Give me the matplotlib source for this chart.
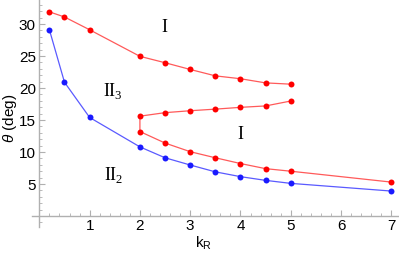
import numpy as np
import matplotlib.pyplot as plt
from matplotlib.ticker import MultipleLocator

plt.rcParams.update({
    'font.family': 'Liberation Sans',
    'font.size': 11,
    'mathtext.fontset': 'custom',
    'mathtext.rm': 'Liberation Serif',
    'mathtext.it': 'Liberation Sans:italic',
    'mathtext.sf': 'Liberation Sans',
})

# upper red boundary (region I above)
kr_top = [0.2, 0.5, 1.0, 2.0, 2.5, 3.0, 3.5, 4.0, 4.5, 5.0]
th_top = [31.9, 31.1, 29.1, 24.95, 23.95, 22.9, 21.9, 21.45, 20.8, 20.6]

# inner red boundary (upper branch back to kR=2, then lower branch)
kr_mid = [5.0, 4.5, 4.0, 3.5, 3.0, 2.5, 2.0, 2.0, 2.5, 3.0, 3.5, 4.0, 4.5, 5.0, 7.0]
th_mid = [17.97, 17.2, 16.98, 16.7, 16.45, 16.15, 15.6,
          13.2, 11.4, 10.05, 9.1, 8.2, 7.4, 7.0, 5.3]

# blue boundary between II3 and II2
kr_blue = [0.2, 0.5, 1.0, 2.0, 2.5, 3.0, 3.5, 4.0, 4.5, 5.0, 7.0]
th_blue = [29.1, 20.9, 15.4, 10.8, 9.1, 7.97, 6.9, 6.15, 5.57, 5.1, 3.9]

RED = '#ff0000'
BLUE = '#1a1aff'

fig = plt.figure(figsize=(3.99, 2.54), dpi=100)
ax = fig.add_axes([0.0797, 0.1067, 0.920, 0.892])

for xs, ys, c, lc in [(kr_top, th_top, RED, '#ff5a5a'),
                      (kr_mid, th_mid, RED, '#ff5a5a'),
                      (kr_blue, th_blue, BLUE, '#5a5aff')]:
    ax.plot(xs, ys, color=lc, lw=0.9, zorder=2)
    ax.plot(xs, ys, 'o', color=c, ms=4.3, mec='none', zorder=3)

ax.set_xlim(-0.15, 7.15)
ax.set_ylim(-1.7, 33.7)

for s in ['top', 'right']:
    ax.spines[s].set_visible(False)
for s in ['left', 'bottom']:
    ax.spines[s].set_position(('data', 0))
    ax.spines[s].set_color('#b0b0b0')
    ax.spines[s].set_linewidth(1.0)

ax.set_xticks([1, 2, 3, 4, 5, 6, 7])
ax.set_yticks([5, 10, 15, 20, 25, 30])
ax.xaxis.set_minor_locator(MultipleLocator(0.2))
ax.yaxis.set_minor_locator(MultipleLocator(1))
ax.tick_params(which='both', direction='in', color='#b0b0b0')
ax.tick_params(which='major', length=4, width=0.8, labelsize=11, pad=2.5)
ax.tick_params(which='minor', length=2, width=0.6)

label_kw = dict(fontsize=13, ha='center', va='center')
ax.text(2.5, 29.4, r'$\mathrm{I}$', **label_kw)
ax.text(1.47, 19.6, r'$\mathrm{II}_3$', **label_kw)
ax.text(4.0, 12.7, r'$\mathrm{I}$', **label_kw)
ax.text(1.47, 6.4, r'$\mathrm{II}_2$', **label_kw)

fig.text(10 / 399, 1 - 118 / 254, r'$\theta$ (deg)', rotation=90,
         ha='center', va='center', fontsize=11)
fig.text(203 / 399, 1 - 243 / 254, r'k$_\mathsf{R}$',
         ha='center', va='center', fontsize=11)

fig.savefig('out.png', dpi=100)
